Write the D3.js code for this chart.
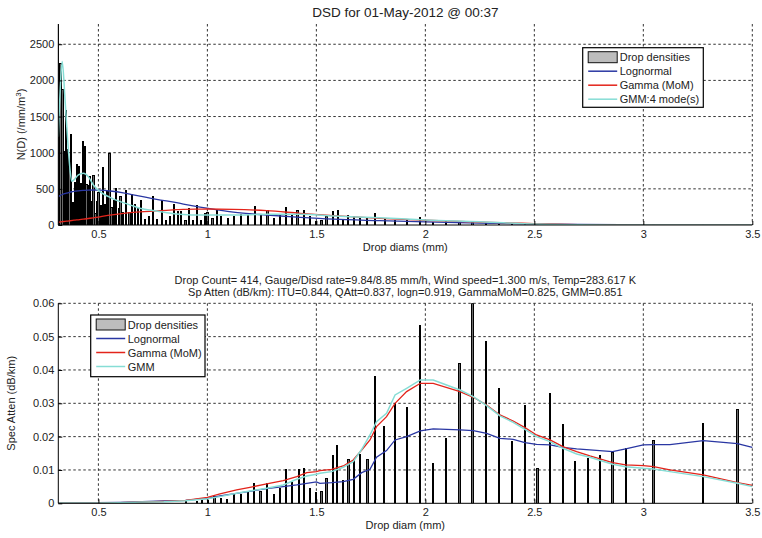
<!DOCTYPE html>
<html>
<head>
<meta charset="utf-8">
<script src="https://cdn.jsdelivr.net/npm/d3@7"></script>
<style>
  body { margin: 0; background: #fff; }
  svg { display: block; font-family: "Liberation Sans", Arial, sans-serif; }
  .tick text { font-size: 11px; fill: #222; }
  .lbl { font-size: 11px; fill: #222; }
</style>
</head>
<body>
<svg id="chart" width="762" height="538"></svg>
<script>
// ---- data ----
const figTitle = "DSD for 01-May-2012 @ 00:37";
const subLines = [
  "Drop Count= 414, Gauge/Disd rate=9.84/8.85 mm/h, Wind speed=1.300 m/s, Temp=283.617 K",
  "Sp Atten (dB/km): ITU=0.844, QAtt=0.837, logn=0.919, GammaMoM=0.825, GMM=0.851"
];
const xTicks = [0.5, 1, 1.5, 2, 2.5, 3, 3.5];
const topYTicks = [0, 500, 1000, 1500, 2000, 2500];
const botYTicks = [0, 0.01, 0.02, 0.03, 0.04, 0.05, 0.06];

// upper panel: drop density bars N(D)
const topBarDiam = [0.316, 0.326, 0.335, 0.342, 0.350, 0.359, 0.367, 0.375, 0.383, 0.392,
  0.402, 0.410, 0.420, 0.429, 0.437, 0.445, 0.452, 0.463, 0.470, 0.478,
  0.486, 0.493, 0.501, 0.512, 0.521, 0.529, 0.540, 0.551, 0.560, 0.571,
  0.581, 0.593, 0.601, 0.613, 0.627, 0.642, 0.653, 0.668, 0.683, 0.694,
  0.714, 0.733, 0.752, 0.770, 0.793, 0.809, 0.828, 0.847, 0.864, 0.879,
  0.899, 0.917, 0.935, 0.951, 0.971, 0.989, 1.001, 1.024, 1.043, 1.062,
  1.093, 1.123, 1.154, 1.185, 1.218, 1.246, 1.276, 1.305, 1.333, 1.360,
  1.389, 1.414, 1.443, 1.472, 1.497, 1.524, 1.547, 1.575, 1.598, 1.623,
  1.646, 1.672, 1.700, 1.731, 1.769, 1.815, 1.861, 1.917, 1.975, 2.036,
  2.094, 2.157, 2.217, 2.279, 2.339, 2.399, 2.457, 2.515, 2.573, 2.631,
  2.688, 2.746, 2.802, 2.859, 2.919, 3.047, 3.275, 3.432];
const topBarDensity = [2770, 2240, 1870, 1010, 1580, 1040, 850, 1245, 310, 585,
  830, 810, 570, 1150, 1090, 555, 540, 670, 320, 680,
  160, 320, 450, 265, 790, 290, 460, 995, 240, 345,
  505, 230, 390, 175, 480, 175, 415, 277, 231, 332,
  79, 115, 392, 79, 332, 69, 124, 277, 184, 184,
  69, 231, 69, 263, 60, 162, 170, 83, 207, 115,
  92, 124, 152, 138, 254, 138, 207, 83, 129, 245,
  138, 198, 198, 115, 55, 69, 115, 184, 207, 79,
  129, 115, 92, 92, 162, 79, 69, 60, 101, 32,
  45, 40, 35, 25, 18, 10, 14, 5, 12, 8,
  4, 4, 4, 4, 4, 3, 3, 3];

// upper panel: fitted distributions
const topFitDiam = [0.316, 0.326, 0.334, 0.347, 0.359, 0.370, 0.378, 0.388, 0.408, 0.431,
  0.454, 0.477, 0.507, 0.553, 0.614, 0.660, 0.691, 0.767, 0.859, 0.890,
  0.966, 0.997, 1.119, 1.272, 1.425, 1.578, 1.790, 2.000, 2.250, 2.500,
  2.700, 3.000, 3.500];
const topLognormal = [392, 410, 422, 435, 445, 455, 460, 465, 472, 478,
  483, 484, 482, 470, 445, 418, 400, 355, 308, 290,
  248, 232, 178, 138, 106, 80, 60, 42, 25, 14,
  8, 3, 1];
const topGamma = [37, 42, 46, 50, 55, 59, 62, 66, 72, 80,
  90, 100, 112, 138, 160, 175, 182, 194, 212, 217,
  220, 221, 217, 198, 162, 129, 92, 66, 40, 20,
  6, 1, 0];
const topGmm = [1222, 1950, 2260, 1730, 1176, 761, 605, 625, 692, 715,
  668, 553, 461, 383, 309, 262, 231, 194, 152, 145,
  138, 138, 138, 148, 148, 124, 101, 69, 46, 15,
  3, 1, 0];

// lower panel: specific attenuation bars
const botBarDiam = [0.901, 0.951, 0.975, 1.004, 1.032, 1.061, 1.091, 1.123, 1.154, 1.185,
  1.215, 1.244, 1.275, 1.305, 1.333, 1.362, 1.389, 1.419, 1.443, 1.471,
  1.497, 1.524, 1.547, 1.575, 1.596, 1.623, 1.648, 1.672, 1.700, 1.735,
  1.770, 1.811, 1.860, 1.917, 1.977, 2.034, 2.094, 2.157, 2.217, 2.279,
  2.339, 2.399, 2.457, 2.515, 2.573, 2.631, 2.688, 2.746, 2.802, 2.859,
  2.919, 3.047, 3.275, 3.432];
const botBarAtten = [0.0004, 0.0005, 0.0007, 0.0008, 0.0020, 0.0015, 0.0010, 0.0030, 0.0025, 0.0035,
  0.0060, 0.0035, 0.0060, 0.0025, 0.0045, 0.0100, 0.0062, 0.0100, 0.0105, 0.0045,
  0.0032, 0.0035, 0.0075, 0.0142, 0.0172, 0.0067, 0.0130, 0.0127, 0.0145, 0.0130,
  0.0380, 0.0230, 0.0300, 0.0287, 0.0533, 0.0120, 0.0195, 0.0418, 0.0600, 0.0485,
  0.0345, 0.0185, 0.0293, 0.0105, 0.0330, 0.0235, 0.0125, 0.0135, 0.0142, 0.0152,
  0.0163, 0.0188, 0.0240, 0.0282];

// lower panel: fitted attenuation curves
const botFitDiam = [0.316, 0.5, 0.6, 0.7, 0.8, 0.9, 1.0, 1.058, 1.134, 1.195,
  1.272, 1.348, 1.41, 1.456, 1.5, 1.516, 1.57, 1.623, 1.669, 1.708,
  1.746, 1.776, 1.822, 1.861, 1.914, 1.977, 2.036, 2.159, 2.22, 2.281,
  2.342, 2.403, 2.457, 2.51, 2.572, 2.631, 2.694, 2.755, 2.859, 2.919,
  3.0, 3.047, 3.122, 3.275, 3.432, 3.5];
const botLognormal = [0.0001, 0.0002, 0.0003, 0.0005, 0.0007, 0.0009, 0.0015, 0.0022, 0.0030, 0.0036,
  0.0044, 0.0050, 0.0055, 0.0060, 0.0064, 0.0060, 0.0062, 0.0065, 0.0072, 0.0092,
  0.0102, 0.0138, 0.0158, 0.0190, 0.0200, 0.0217, 0.0223, 0.0220, 0.0218, 0.0210,
  0.0195, 0.0192, 0.0182, 0.0177, 0.0175, 0.0168, 0.0163, 0.0160, 0.0155, 0.0163,
  0.0175, 0.0176, 0.0176, 0.0188, 0.0179, 0.0168];
const botGamma = [0.0001, 0.0001, 0.0002, 0.0004, 0.0006, 0.0009, 0.0018, 0.0028, 0.0040, 0.0048,
  0.0058, 0.0068, 0.0080, 0.0092, 0.0095, 0.0098, 0.0102, 0.0112, 0.0130, 0.0160,
  0.0190, 0.0230, 0.0260, 0.0300, 0.0335, 0.0360, 0.0360, 0.0335, 0.0318, 0.0295,
  0.0265, 0.0247, 0.0227, 0.0205, 0.0190, 0.0170, 0.0155, 0.0142, 0.0122, 0.0115,
  0.0113, 0.0110, 0.0100, 0.0085, 0.0062, 0.0054];
const botGmm = [0.0001, 0.0001, 0.0002, 0.0004, 0.0005, 0.0008, 0.0014, 0.0020, 0.0030, 0.0037,
  0.0045, 0.0055, 0.0072, 0.0082, 0.0087, 0.0090, 0.0095, 0.0108, 0.0125, 0.0162,
  0.0205, 0.0245, 0.0270, 0.0325, 0.0345, 0.0370, 0.0370, 0.0340, 0.0320, 0.0293,
  0.0262, 0.0243, 0.0222, 0.0200, 0.0185, 0.0165, 0.0148, 0.0138, 0.0117, 0.0110,
  0.0105, 0.0103, 0.0095, 0.0080, 0.0060, 0.0050];

// ---- drawing ----
const COL_LOGN = "#2a37a3";
const COL_GAMMA = "#e3241b";
const COL_GMM = "#86ddd5";
const BAR_W = 0.006;   // bar width in mm

let svg = d3.select("#chart");

// Shared x scale for both panels
let x = d3.scaleLinear().domain([0.316, 3.5]).range([58.3, 752.3]);

function drawPanel(opt) {
    let y = d3.scaleLinear().domain(opt.yDomain).range([opt.bottom, opt.top]);
    let g = svg.append("g");

    let clipId = "clip" + opt.id;
    svg.append("clipPath").attr("id", clipId)
        .append("rect")
        .attr("x", x.range()[0]).attr("y", opt.top)
        .attr("width", x.range()[1] - x.range()[0] + 1)
        .attr("height", opt.bottom - opt.top);

    // dotted grid
    g.selectAll(".vgrid").data(xTicks).enter().append("line")
        .attr("x1", d => x(d)).attr("x2", d => x(d))
        .attr("y1", opt.top).attr("y2", opt.bottom)
        .style("stroke", "#333").style("stroke-dasharray", "2.5,2.5");
    g.selectAll(".hgrid").data(opt.yTicks.filter(d => d > 0)).enter().append("line")
        .attr("x1", x.range()[0]).attr("x2", x.range()[1])
        .attr("y1", d => y(d)).attr("y2", d => y(d))
        .style("stroke", "#333").style("stroke-dasharray", "2.5,2.5");

    let plot = g.append("g").attr("clip-path", "url(#" + clipId + ")");

    // bars (narrow, so they read as black strokes like the reference)
    plot.selectAll(".bar").data(opt.barDiam).enter().append("rect")
        .attr("x", d => x(d - BAR_W / 2))
        .attr("width", x(BAR_W) - x(0))
        .attr("y", (d, i) => y(opt.barVals[i]))
        .attr("height", (d, i) => opt.bottom - y(opt.barVals[i]))
        .attr("shape-rendering", "crispEdges")
        .style("fill", "#6a6a6a")
        .style("stroke", "#000")
        .style("stroke-width", 1);

    // fitted curves
    let line = d3.line()
        .x(d => x(d[0]))
        .y(d => y(d[1]))
        .curve(opt.curve);
    opt.series.forEach(function(s) {
        plot.append("path")
            .datum(opt.fitDiam.map((d, i) => [d, s.vals[i]]))
            .attr("d", line)
            .style("fill", "none")
            .style("stroke", s.color)
            .style("stroke-width", s.width || 1.3);
    });

    // axes (MATLAB style: ticks point inward, no box)
    let xAxis = g.append("g")
        .attr("transform", "translate(0," + opt.bottom + ")")
        .call(d3.axisBottom(x).tickValues(xTicks).tickSize(-4).tickPadding(5)
            .tickFormat(d3.format("~g")));
    let yAxis = g.append("g")
        .attr("transform", "translate(" + x.range()[0] + ",0)")
        .call(d3.axisLeft(y).tickValues(opt.yTicks).tickSize(-4).tickPadding(4)
            .tickFormat(opt.yFormat));
    [xAxis, yAxis].forEach(function(a) {
        a.select(".domain").remove();
        a.selectAll(".tick line").style("stroke", "#000");
    });
    g.append("line")
        .attr("x1", x.range()[0]).attr("x2", x.range()[1])
        .attr("y1", opt.bottom).attr("y2", opt.bottom)
        .style("stroke", "#000");
    g.append("line")
        .attr("x1", x.range()[0]).attr("x2", x.range()[0])
        .attr("y1", opt.top).attr("y2", opt.bottom)
        .style("stroke", "#000");

    // axis labels
    g.append("text").attr("class", "lbl")
        .attr("x", (x.range()[0] + x.range()[1]) / 2)
        .attr("y", opt.bottom + 26)
        .attr("text-anchor", "middle")
        .text(opt.xLabel);
    let yl = g.append("text").attr("class", "lbl")
        .attr("transform", "translate(" + opt.yLabelX + "," + (opt.top + opt.bottom) / 2 + ") rotate(-90)")
        .attr("text-anchor", "middle");
    opt.yLabel(yl);

    // legend
    let lg = g.append("g").attr("transform", "translate(" + opt.legend.x + "," + opt.legend.y + ")");
    lg.append("rect")
        .attr("width", opt.legend.w).attr("height", opt.legend.h)
        .style("fill", "#fff").style("stroke", "#000").style("stroke-width", 1.2);
    let items = [{ label: "Drop densities", bar: true }].concat(opt.series);
    items.forEach(function(it, i) {
        let cy = 9.5 + i * 14;
        if (it.bar) {
            lg.append("rect")
                .attr("x", 5.5).attr("y", cy - 5.5).attr("width", 29).attr("height", 11)
                .style("fill", "#bdbdbd").style("stroke", "#111").style("stroke-width", 1);
        } else {
            lg.append("line")
                .attr("x1", 5.5).attr("x2", 34.5).attr("y1", cy).attr("y2", cy)
                .style("stroke", it.color).style("stroke-width", 1.5);
        }
        lg.append("text").attr("class", "lbl")
            .attr("x", 37).attr("y", cy + 4)
            .text(it.label);
    });
    return y;
}

// title
svg.append("text")
    .attr("x", 405.3).attr("y", 16.5)
    .attr("text-anchor", "middle")
    .style("font-size", "13.5px").style("fill", "#222")
    .text(figTitle);

// top panel: drop size distribution
drawPanel({
    id: "top",
    top: 24, bottom: 225,
    yDomain: [0, 2780],
    yTicks: topYTicks,
    yFormat: d3.format("d"),
    barDiam: topBarDiam, barVals: topBarDensity,
    fitDiam: topFitDiam,
    curve: d3.curveMonotoneX,
    series: [
        { label: "Lognormal", color: COL_LOGN, vals: topLognormal },
        { label: "Gamma (MoM)", color: COL_GAMMA, vals: topGamma },
        { label: "GMM:4 mode(s)", color: COL_GMM, vals: topGmm, width: 1.5 }
    ],
    xLabel: "Drop diams (mm)",
    yLabelX: 25,
    yLabel: function(t) {
        t.append("tspan").text("N(D) (/mm/m");
        t.append("tspan").attr("dy", -4).style("font-size", "8px").text("3");
        t.append("tspan").attr("dy", 4).text(")");
    },
    legend: { x: 582.7, y: 47.7, w: 120.6, h: 59.6 }
});

// sub-title above lower panel
subLines.forEach(function(s, i) {
    svg.append("text")
        .attr("x", 405.3).attr("y", 283.5 + i * 12.5)
        .attr("text-anchor", "middle")
        .style("font-size", "11px").style("fill", "#222")
        .text(s);
});

// bottom panel: specific attenuation
drawPanel({
    id: "bot",
    top: 303.3, bottom: 503.3,
    yDomain: [0, 0.06],
    yTicks: botYTicks,
    yFormat: d => d === 0 ? "0" : d3.format(".2f")(d),
    barDiam: botBarDiam, barVals: botBarAtten,
    fitDiam: botFitDiam,
    curve: d3.curveLinear,
    series: [
        { label: "Lognormal", color: COL_LOGN, vals: botLognormal },
        { label: "Gamma (MoM)", color: COL_GAMMA, vals: botGamma },
        { label: "GMM", color: COL_GMM, vals: botGmm, width: 1.5 }
    ],
    xLabel: "Drop diam (mm)",
    yLabelX: 15,
    yLabel: function(t) { t.text("Spec Atten (dB/km)"); },
    legend: { x: 90.7, y: 315, w: 114.3, h: 61.7 }
});
</script>
</body>
</html>
